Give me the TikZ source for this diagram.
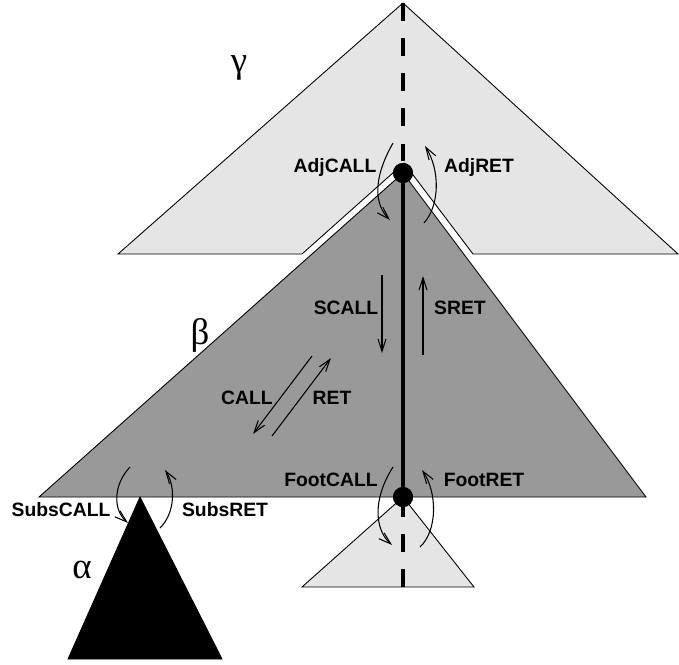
\documentclass[tikz,border=0pt]{standalone}
\usepackage{fontspec}
\setsansfont{Liberation Sans}
\newfontfamily\yunanca{Liberation Serif}
\usetikzlibrary{arrows.meta}
\definecolor{acikGri}{HTML}{E5E5E5}
\definecolor{koyuGri}{HTML}{999999}
\tikzset{
  etiket/.style={font=\sffamily\bfseries\fontsize{11}{13}\selectfont,inner sep=0pt},
  harf/.style={font=\yunanca\fontsize{21}{24}\selectfont,inner sep=0pt},
  agac/.style={draw=black,line width=0.5pt,line join=miter},
  ok/.style={line width=0.6pt,-{Straight Barb[length=7pt,width=4.5pt]}},
  dugum/.style={circle,fill=black,minimum size=0.4cm,inner sep=0pt},
  omurga/.style={line width=2.3pt},
  kesik/.style={line width=2.3pt,dash pattern=on 10.2pt off 9.8pt}
}
\begin{document}
\begin{tikzpicture}[x=0.02cm,y=-0.02cm]
\useasboundingbox (0,0) rectangle (679,664);
\draw[agac,fill=acikGri] (403,3) -- (678,254) -- (473,254) -- (404,163) -- (302,254) -- (118,254) -- cycle;
\draw[agac,fill=koyuGri] (403,173) -- (646,497) -- (39,497) -- cycle;
\draw[agac,fill=acikGri] (403,497) -- (474,587) -- (302,587) -- cycle;
\draw[agac,fill=black] (140,497) -- (222,659) -- (68,659) -- cycle;
\coordinate (gTepe) at (403,3);
\coordinate (fTaban) at (403,587);
\node[dugum] (adj) at (403,173) {};
\node[dugum] (foot) at (403,497) {};
\draw[kesik] (gTepe) -- (adj.center);
\draw[kesik] (fTaban) -- (foot.center);
\draw[omurga] (adj.center) -- (foot.center);
\node[dugum] at (adj) {};
\node[dugum] at (foot) {};
\coordinate (scS) at (382,275); \coordinate (scE) at (382,353);
\coordinate (srS) at (423,355); \coordinate (srE) at (423,276);
\coordinate (cS) at (312,356); \coordinate (cE) at (253,434);
\coordinate (rS) at (272,436); \coordinate (rE) at (331,358);
\draw[ok] (scS) -- (scE);
\draw[ok] (srS) -- (srE);
\draw[ok] (cS) -- (cE);
\draw[ok] (rS) -- (rE);
\draw[ok] (393,143) .. controls (372,180) and (375,205) .. (390,220);
\draw[ok] (424,223) .. controls (440,205) and (440,170) .. (425,146);
\draw[ok] (393,467) .. controls (372,500) and (375,530) .. (392,545);
\draw[ok] (420,547) .. controls (438,530) and (437,492) .. (422,470);
\draw[ok] (130,467) .. controls (113,485) and (113,510) .. (128,523);
\draw[ok] (160,528) .. controls (176,512) and (175,485) .. (165,470);
\node[harf] (gamma) at (239,68) {γ};
\node[harf] (beta) at (200,335) {β};
\node[harf] (alpha) at (82,570) {α};
\node[etiket] (adjcall) at (335,167) {AdjCALL};
\node[etiket] (adjret) at (479,167) {AdjRET};
\node[etiket] (scall) at (346,308) {SCALL};
\node[etiket] (sret) at (460,308) {SRET};
\node[etiket] (call) at (247,398) {CALL};
\node[etiket] (ret) at (332,398) {RET};
\node[etiket] (footcall) at (331,480) {FootCALL};
\node[etiket] (footret) at (484,480) {FootRET};
\node[etiket] (subscall) at (61,510) {SubsCALL};
\node[etiket] (subsret) at (225,510) {SubsRET};
\end{tikzpicture}
\end{document}
